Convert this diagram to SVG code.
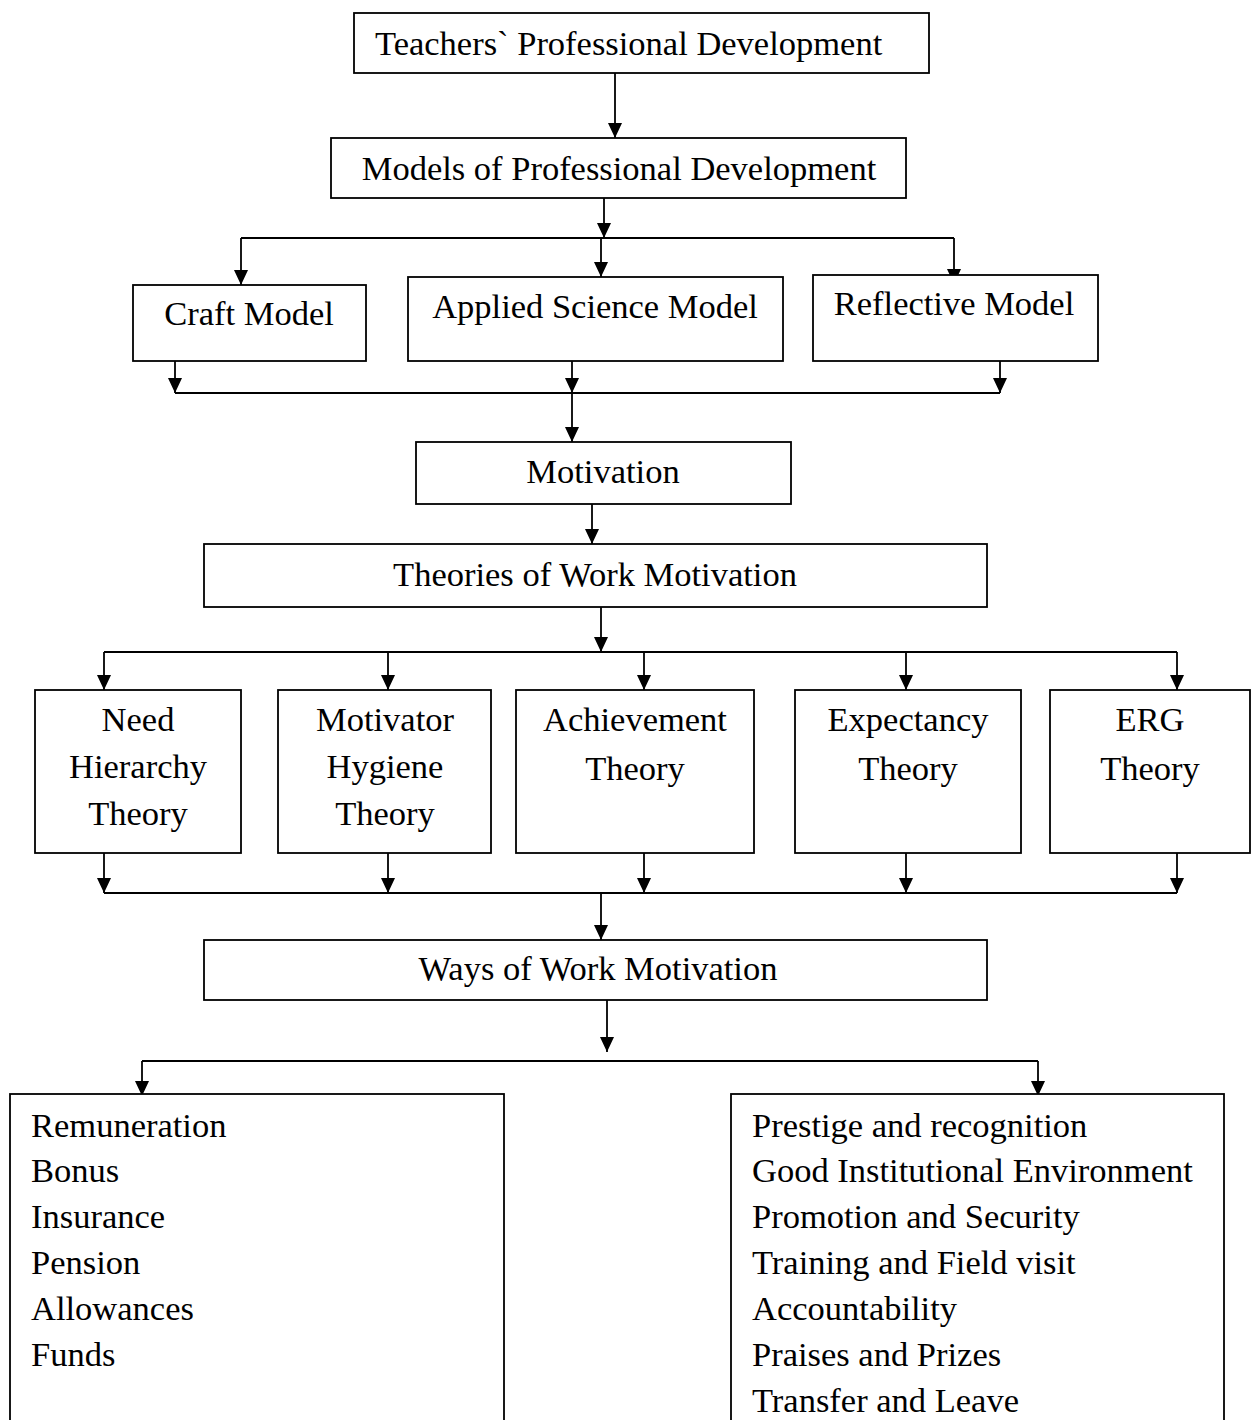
<svg xmlns="http://www.w3.org/2000/svg" width="1252" height="1420" viewBox="0 0 1252 1420">
<style>
rect.n{fill:#fff;stroke:#000;stroke-width:1.8}
text{font-family:"Liberation Serif","Times New Roman",serif;font-size:34.5px;fill:#000}
.c{text-anchor:middle}
.e line{stroke:#000;stroke-width:1.8}
.a{marker-end:url(#ah)}
</style>
<defs>
<marker id="ah" markerUnits="userSpaceOnUse" markerWidth="15" markerHeight="14" viewBox="0 0 15 14" refX="15" refY="7" orient="auto">
<path d="M0,0 L15,7 L0,14 Z" fill="#000"/>
</marker>
</defs>
<rect width="1252" height="1420" fill="#fff"/>
<g id="edges" class="e">
<line class="a" x1="615" y1="73" x2="615" y2="138"/>
<line class="a" x1="604" y1="198" x2="604" y2="238"/>
<line x1="241" y1="238" x2="954" y2="238"/>
<line class="a" x1="241" y1="238" x2="241" y2="285"/>
<line class="a" x1="601" y1="238" x2="601" y2="277"/>
<line class="a" x1="954" y1="238" x2="954" y2="284"/>
<line class="a" x1="175" y1="361" x2="175" y2="393"/>
<line class="a" x1="572" y1="361" x2="572" y2="393"/>
<line class="a" x1="1000" y1="361" x2="1000" y2="393"/>
<line x1="175" y1="393" x2="1000" y2="393"/>
<line class="a" x1="572" y1="393" x2="572" y2="442"/>
<line class="a" x1="592" y1="504" x2="592" y2="544"/>
<line class="a" x1="601" y1="607" x2="601" y2="652"/>
<line x1="104" y1="652" x2="1177" y2="652"/>
<line class="a" x1="104" y1="652" x2="104" y2="690"/>
<line class="a" x1="388" y1="652" x2="388" y2="690"/>
<line class="a" x1="644" y1="652" x2="644" y2="690"/>
<line class="a" x1="906" y1="652" x2="906" y2="690"/>
<line class="a" x1="1177" y1="652" x2="1177" y2="690"/>
<line class="a" x1="104" y1="853" x2="104" y2="893"/>
<line class="a" x1="388" y1="853" x2="388" y2="893"/>
<line class="a" x1="644" y1="853" x2="644" y2="893"/>
<line class="a" x1="906" y1="853" x2="906" y2="893"/>
<line class="a" x1="1177" y1="853" x2="1177" y2="893"/>
<line x1="104" y1="893" x2="1177" y2="893"/>
<line class="a" x1="601" y1="893" x2="601" y2="940"/>
<line class="a" x1="607" y1="1000" x2="607" y2="1052"/>
<line x1="142" y1="1061" x2="1038" y2="1061"/>
<line class="a" x1="142" y1="1061" x2="142" y2="1096"/>
<line class="a" x1="1038" y1="1061" x2="1038" y2="1096"/>
</g>
<g id="n-tpd"><rect class="n" x="354" y="13" width="575" height="60"/><text x="375" y="55">Teachers` Professional Development</text></g>
<g id="n-models"><rect class="n" x="331" y="138" width="575" height="60"/><text class="c" x="619" y="180">Models of Professional Development</text></g>
<g id="n-craft"><rect class="n" x="133" y="285" width="233" height="76"/><text class="c" x="249" y="325">Craft Model</text></g>
<g id="n-applied"><rect class="n" x="408" y="277" width="375" height="84"/><text class="c" x="595" y="318">Applied Science Model</text></g>
<g id="n-reflective"><rect class="n" x="813" y="275" width="285" height="86"/><text class="c" x="954" y="315">Reflective Model</text></g>
<g id="n-motivation"><rect class="n" x="416" y="442" width="375" height="62"/><text class="c" x="603" y="483">Motivation</text></g>
<g id="n-theories"><rect class="n" x="204" y="544" width="783" height="63"/><text class="c" x="595" y="586">Theories of Work Motivation</text></g>
<g id="n-need"><rect class="n" x="35" y="690" width="206" height="163"/><text class="c" x="138" y="731">Need</text><text class="c" x="138" y="778">Hierarchy</text><text class="c" x="138" y="825">Theory</text></g>
<g id="n-motivator"><rect class="n" x="278" y="690" width="213" height="163"/><text class="c" x="385" y="731">Motivator</text><text class="c" x="385" y="778">Hygiene</text><text class="c" x="385" y="825">Theory</text></g>
<g id="n-achievement"><rect class="n" x="516" y="690" width="238" height="163"/><text class="c" x="635" y="731">Achievement</text><text class="c" x="635" y="780">Theory</text></g>
<g id="n-expectancy"><rect class="n" x="795" y="690" width="226" height="163"/><text class="c" x="908" y="731">Expectancy</text><text class="c" x="908" y="780">Theory</text></g>
<g id="n-erg"><rect class="n" x="1050" y="690" width="200" height="163"/><text class="c" x="1150" y="731">ERG</text><text class="c" x="1150" y="780">Theory</text></g>
<g id="n-ways"><rect class="n" x="204" y="940" width="783" height="60"/><text class="c" x="598" y="980">Ways of Work Motivation</text></g>
<g id="n-left"><rect class="n" x="10" y="1094" width="494" height="340"/>
<text x="31" y="1137">Remuneration</text><text x="31" y="1182">Bonus</text><text x="31" y="1228">Insurance</text><text x="31" y="1274">Pension</text><text x="31" y="1320">Allowances</text><text x="31" y="1366">Funds</text></g>
<g id="n-right"><rect class="n" x="731" y="1094" width="493" height="340"/>
<text x="752" y="1137">Prestige and recognition</text><text x="752" y="1182">Good Institutional Environment</text><text x="752" y="1228">Promotion and Security</text><text x="752" y="1274">Training and Field visit</text><text x="752" y="1320">Accountability</text><text x="752" y="1366">Praises and Prizes</text><text x="752" y="1412">Transfer and Leave</text></g>
</svg>
